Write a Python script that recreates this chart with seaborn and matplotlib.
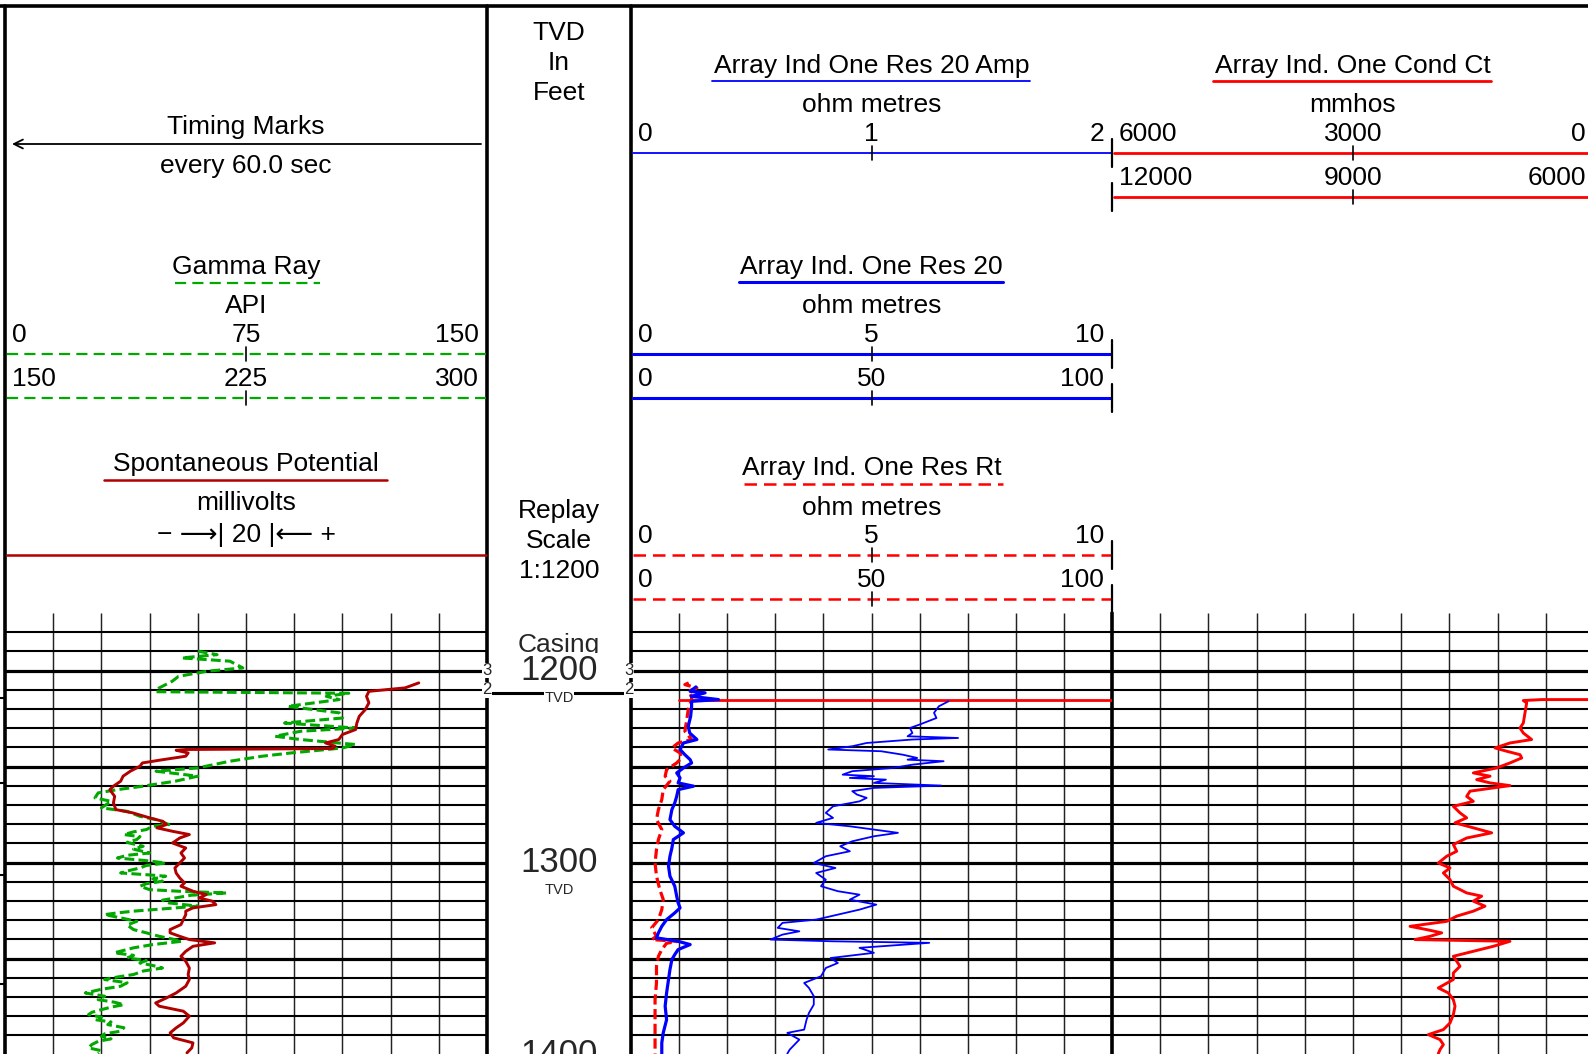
import numpy as np
import pandas as pd
import seaborn as sns
import matplotlib.pyplot as plt

# ---- log readings: (depth ft, value in curve units) ----
gamma_ray = [(1189.9, 60), (1191.7, 66), (1193.4, 55), (1195.1, 70), (1198.6, 74), (1200.3, 63),
             (1203.0, 54), (1205.6, 52), (1209.0, 48), (1211.0, 47), (1211.8, 107), (1213.4, 100),
             (1215.1, 104), (1218.6, 88), (1222.0, 104), (1224.7, 105), (1227.3, 87), (1229.9, 109),
             (1231.6, 92), (1234.2, 84), (1235.9, 92), (1238.5, 109), (1240.3, 105), (1242.9, 89),
             (1244.6, 80), (1247.2, 70), (1250.7, 60), (1252.4, 47), (1255.0, 60), (1257.6, 53),
             (1260.2, 43), (1262.0, 35), (1263.7, 29), (1266.3, 28), (1268.1, 33), (1271.5, 30),
             (1273.3, 38), (1275.9, 42), (1277.6, 47), (1280.2, 51), (1281.0, 46), (1282.8, 44),
             (1284.0, 40), (1285.4, 37), (1286.5, 42), (1288.0, 41), (1289.5, 38), (1291.5, 43),
             (1293.0, 40), (1295.0, 45), (1296.2, 38), (1297.6, 35), (1299.0, 44), (1300.2, 50),
             (1301.5, 44), (1302.8, 42), (1304.0, 39), (1305.4, 36), (1306.3, 44), (1307.1, 50),
             (1308.5, 46), (1309.7, 49), (1311.0, 44), (1312.3, 42), (1314.1, 45), (1315.0, 55),
             (1315.8, 69), (1317.0, 58), (1318.4, 53), (1319.6, 49), (1321.0, 51), (1322.7, 60),
             (1324.0, 50), (1325.3, 40), (1326.2, 35), (1327.1, 31), (1328.8, 36), (1330.6, 41),
             (1332.5, 38), (1334.9, 40), (1336.6, 44), (1338.4, 48), (1339.8, 52), (1341.0, 55),
             (1342.7, 46), (1344.4, 40), (1345.7, 37), (1347.0, 34), (1348.3, 40), (1349.7, 38),
             (1351.0, 44), (1352.3, 42), (1353.6, 46), (1354.9, 49), (1356.5, 43), (1358.3, 40),
             (1359.6, 35), (1360.9, 31), (1362.6, 38), (1364.4, 36), (1366.0, 30), (1367.9, 25),
             (1369.6, 31), (1371.4, 29), (1372.7, 34), (1374.0, 37), (1375.3, 33), (1376.6, 30),
             (1378.0, 27), (1379.2, 26), (1380.5, 30), (1381.8, 28), (1383.0, 33), (1384.4, 32),
             (1386.0, 37), (1387.8, 36), (1389.2, 31), (1390.5, 30), (1391.8, 33), (1393.1, 29),
             (1394.8, 27), (1396.5, 26), (1398.0, 30), (1399.5, 29)]

spont_pot = [(1206.4, 11.7), (1209.0, 6), (1210.8, -9), (1213.4, -10), (1216.8, -9), (1220.3, -10.5),
             (1223.8, -13), (1227.3, -14), (1230.7, -14.5), (1233.3, -20), (1235.9, -21.5),
             (1237.7, -27), (1239.4, -23), (1240.6, -24), (1241.1, -85), (1241.5, -89), (1242.9, -84),
             (1244.6, -85), (1246.4, -94.5), (1248.1, -103), (1249.8, -104), (1252.4, -108),
             (1255.0, -111), (1257.6, -112), (1260.2, -115), (1262.0, -116.5), (1265.5, -114.5),
             (1268.9, -115), (1272.4, -114), (1274.1, -107), (1276.7, -100), (1278.5, -94.5),
             (1280.2, -93), (1281.9, -97), (1283.7, -90.5), (1285.4, -83.5), (1287.2, -87.5),
             (1289.8, -90.5), (1292.4, -85), (1295.0, -87), (1297.6, -85.5), (1300.2, -87.5),
             (1302.8, -89.5), (1305.4, -89), (1308.0, -87.5), (1310.6, -85.5), (1312.3, -87),
             (1314.9, -82), (1316.7, -76.5), (1318.4, -79.5), (1320.1, -74), (1321.9, -72.5),
             (1323.6, -82), (1325.3, -85), (1327.1, -85), (1329.7, -86), (1332.3, -87),
             (1334.9, -91.5), (1336.6, -91.5), (1338.4, -87.5), (1340.1, -83.5), (1341.8, -73),
             (1343.6, -82), (1346.2, -85), (1348.8, -87), (1351.4, -85), (1354.9, -83.5),
             (1358.3, -84), (1360.9, -83.5), (1364.4, -85), (1367.9, -89), (1370.5, -93),
             (1373.1, -97.5), (1374.8, -96), (1377.4, -86), (1380.0, -83.5), (1383.5, -86),
             (1386.1, -89), (1388.7, -91.5), (1391.3, -90), (1393.9, -82), (1396.5, -82.5),
             (1399.1, -84.5)]

res20_amp = [(1216.0, 1.32), (1218.6, 1.28), (1222.0, 1.26), (1224.7, 1.27), (1228.1, 1.20),
             (1229.9, 1.16), (1232.5, 1.17), (1234.2, 1.15), (1235.1, 1.36), (1235.9, 1.17),
             (1237.7, 0.98), (1239.4, 0.92), (1241.1, 0.82), (1242.0, 1.04), (1243.8, 1.13),
             (1245.5, 1.19), (1246.4, 1.15), (1247.2, 1.30), (1249.0, 1.17), (1250.7, 1.09),
             (1252.4, 0.92), (1254.2, 0.88), (1255.0, 1.01), (1255.9, 0.91), (1256.8, 1.06),
             (1258.5, 1.01), (1259.9, 1.29), (1261.1, 1.01), (1262.8, 0.92), (1264.6, 0.94),
             (1266.3, 0.98), (1268.1, 0.95), (1270.7, 0.84), (1274.1, 0.81), (1276.7, 0.84),
             (1279.3, 0.77), (1281.1, 0.91), (1282.8, 1.01), (1284.5, 1.11), (1286.3, 1.01),
             (1288.9, 0.92), (1291.5, 0.87), (1294.1, 0.91), (1296.7, 0.81), (1300.2, 0.76),
             (1302.8, 0.85), (1305.4, 0.77), (1308.9, 0.81), (1312.3, 0.79), (1314.9, 0.86),
             (1316.7, 0.95), (1319.3, 0.91), (1321.9, 1.02), (1324.5, 0.95), (1327.1, 0.86),
             (1329.7, 0.77), (1331.4, 0.63), (1334.0, 0.61), (1335.8, 0.70), (1337.5, 0.63),
             (1340.1, 0.58), (1341.0, 0.84), (1341.8, 1.24), (1344.4, 0.95), (1347.0, 1.01),
             (1349.7, 0.83), (1352.3, 0.86), (1354.9, 0.81), (1359.2, 0.79), (1362.7, 0.72),
             (1365.3, 0.74), (1369.6, 0.76), (1374.0, 0.76), (1378.3, 0.74), (1381.8, 0.73),
             (1387.0, 0.72), (1388.7, 0.65), (1392.2, 0.70), (1394.8, 0.68), (1397.4, 0.66),
             (1399.5, 0.65)]

res20 = [(1208.5, 1.35), (1210.8, 1.23), (1211.6, 1.54), (1213.4, 1.25), (1215.1, 1.82),
         (1216.0, 1.26), (1218.6, 1.26), (1223.8, 1.24), (1229.0, 1.19), (1232.5, 1.22),
         (1235.9, 1.37), (1237.7, 1.09), (1241.1, 1.02), (1243.8, 1.12), (1246.4, 1.23),
         (1248.1, 1.26), (1250.7, 1.09), (1253.3, 0.95), (1255.9, 1.02), (1258.5, 0.98),
         (1260.2, 1.30), (1262.0, 0.98), (1265.5, 0.95), (1268.9, 0.91), (1272.4, 0.85),
         (1277.6, 0.81), (1281.1, 0.91), (1284.5, 1.09), (1288.0, 0.88), (1292.4, 0.85),
         (1296.7, 0.81), (1301.9, 0.78), (1307.1, 0.81), (1312.3, 0.91), (1317.5, 0.95),
         (1321.0, 0.98), (1323.6, 1.02), (1326.2, 0.91), (1329.7, 0.74), (1333.2, 0.64),
         (1336.6, 0.57), (1339.2, 0.53), (1341.0, 0.98), (1342.7, 1.23), (1345.3, 0.98),
         (1347.9, 0.91), (1350.5, 0.85), (1355.7, 0.81), (1360.9, 0.78), (1367.9, 0.74),
         (1374.8, 0.71), (1381.8, 0.74), (1388.7, 0.67), (1393.9, 0.64), (1399.5, 0.64)]

res_rt = [(1206.4, 1.20), (1207.3, 1.12), (1209.0, 1.37), (1210.8, 1.19), (1213.4, 1.26),
          (1215.1, 1.26), (1220.3, 1.19), (1225.5, 1.16), (1231.6, 1.12), (1235.9, 1.26),
          (1237.7, 0.98), (1240.3, 0.85), (1242.9, 1.02), (1245.5, 1.05), (1248.1, 0.95),
          (1251.6, 0.74), (1255.0, 0.71), (1257.6, 0.81), (1262.0, 0.67), (1267.2, 0.64),
          (1272.4, 0.57), (1277.6, 0.53), (1282.8, 0.64), (1288.0, 0.57), (1293.2, 0.53),
          (1300.2, 0.50), (1307.1, 0.53), (1314.1, 0.60), (1319.2, 0.67), (1324.5, 0.64),
          (1329.7, 0.57), (1334.0, 0.43), (1338.4, 0.53), (1340.1, 0.43), (1341.0, 0.98),
          (1342.0, 0.74), (1345.3, 0.64), (1348.8, 0.57), (1354.0, 0.53), (1362.6, 0.53),
          (1371.4, 0.50), (1380.0, 0.50), (1388.7, 0.50), (1399.5, 0.50)]

cond_ct = [(1215.1, 0), (1215.1, 651), (1215.6, 880), (1216.8, 838), (1222.0, 859), (1227.3, 880),
           (1229.9, 921), (1232.5, 880), (1235.9, 776), (1237.7, 1046), (1240.3, 1232),
           (1242.0, 1087), (1243.8, 921), (1245.5, 900), (1248.1, 1046), (1250.7, 1212),
           (1253.3, 1502), (1255.0, 1294), (1256.8, 1460), (1258.5, 1294), (1259.9, 1046),
           (1261.1, 1253), (1262.8, 1543), (1265.5, 1585), (1268.1, 1502), (1270.7, 1751),
           (1274.1, 1668), (1276.7, 1585), (1279.3, 1730), (1281.9, 1502), (1284.5, 1274),
           (1287.2, 1585), (1290.6, 1751), (1294.1, 1709), (1296.7, 1834), (1300.2, 1938),
           (1302.8, 1792), (1305.4, 1875), (1308.9, 1792), (1312.3, 1751), (1315.8, 1585),
           (1317.5, 1398), (1320.1, 1502), (1322.7, 1357), (1325.3, 1502), (1327.9, 1709),
           (1330.6, 1834), (1333.2, 2290), (1334.9, 2083), (1336.6, 1896), (1338.4, 2041),
           (1340.1, 2228), (1341.0, 1046), (1343.6, 1253), (1346.2, 1502), (1348.8, 1751),
           (1351.4, 1709), (1354.0, 1668), (1357.5, 1751), (1360.9, 1751), (1365.3, 1938),
           (1367.9, 1813), (1371.4, 1751), (1374.8, 1730), (1379.2, 1751), (1383.5, 1792),
           (1387.0, 1875), (1389.6, 2062), (1392.2, 1917), (1394.8, 1875), (1397.4, 1917),
           (1399.5, 1938)]

# red flag line drawn across track 2 at the top of the Ct curve (ohm.m scale)
ct_track2 = [(1215.1, 1.0), (1215.1, 10.0)]

timing_marks = [1214.1, 1258.3, 1306.3, 1363.0]
depth_labels = [1200, 1300, 1400]
casing_depth = 1211.5

# header scale labels (left, centre, right)
gr_scale = ["0", "75", "150"]
gr_backup = ["150", "225", "300"]
amp_scale = ["0", "1", "2"]
res_scale = ["0", "5", "10"]
res_backup = ["0", "50", "100"]
ct_scale = ["6000", "3000", "0"]
ct_backup = ["12000", "9000", "6000"]

# ---- layout (pixels) ----
W, H = 1588, 1054
TOP_D, BOT_D = 1170, 1399.7
GRID_Y = 613
T1 = (5, 487)
TD = (487, 631)
T2 = (631, 1112)
T3 = (1112, 1594)

GREEN = '#00a800'
DRED = '#b00000'
RED = '#ff0000'
BLUE = '#0000ff'
FS = 19

sns.set_style("white")
plt.rcParams['font.family'] = ['Liberation Sans', 'DejaVu Sans']

fig = plt.figure(figsize=(W / 100, H / 100), dpi=100)
hd = fig.add_axes([0, 0, 1, 1], zorder=0)
hd.set_xlim(0, W)
hd.set_ylim(H, 0)
hd.axis('off')


def txt(x, y, s, ha='center', fs=FS):
    hd.text(x, y + 2, s, ha=ha, va='center', fontsize=fs, color='black')


def scale_line(x0, x1, y, labels, color, lw, ls='-', end_tick=False):
    cx = (x0 + x1) / 2
    txt(x0 + 7, y - 21, labels[0], ha='left')
    txt(cx, y - 21, labels[1])
    txt(x1 - 8, y - 21, labels[2], ha='right')
    hd.plot([x0 + 2, x1 - 1], [y, y], color=color, lw=lw, linestyle=ls)
    hd.plot([cx, cx], [y - 7, y + 7], color='black', lw=1.2)
    if end_tick:
        hd.plot([x1, x1], [y - 14, y + 14], color='black', lw=1.6)


hdash = (0, (5, 2.8))

# track borders
hd.plot([0, W], [6, 6], color='black', lw=2.6)
for xb in (T1[0], T1[1], T2[0]):
    hd.plot([xb, xb], [6, H], color='black', lw=2.6)
hd.plot([T3[0], T3[0]], [GRID_Y, H], color='black', lw=2.6)

# track 1 header
c1 = sum(T1) / 2
txt(c1, 125, "Timing Marks")
hd.annotate('', xy=(12, 144), xytext=(481, 144),
            arrowprops=dict(arrowstyle='->', color='black', lw=1.3, mutation_scale=16,
                            shrinkA=0, shrinkB=0))
txt(c1, 164, "every 60.0 sec")
txt(c1, 265, "Gamma Ray")
hd.plot([175, 320], [283, 283], color=GREEN, lw=1.6, linestyle=hdash)
txt(c1, 304, "API")
scale_line(*T1, 354, gr_scale, GREEN, 1.6, hdash)
scale_line(*T1, 398, gr_backup, GREEN, 1.6, hdash)
txt(c1, 462, "Spontaneous Potential")
hd.plot([104, 387], [480, 480], color=DRED, lw=1.8)
txt(c1, 501, "millivolts")
txt(c1, 533, "\u2212 \u27f6| 20 |\u27f5 +")
hd.plot([T1[0] + 2, T1[1] - 1], [555, 555], color=DRED, lw=1.8)

# depth track header
cd = sum(TD) / 2
for yy, s in zip([31, 61, 91, 509, 539, 569], ["TVD", "In", "Feet", "Replay", "Scale", "1:1200"]):
    txt(cd, yy, s)

# track 2 header
c2 = sum(T2) / 2
txt(c2, 64, "Array Ind One Res 20 Amp")
hd.plot([712, 1030], [81, 81], color=BLUE, lw=1.3)
txt(c2, 103, "ohm metres")
scale_line(*T2, 153, amp_scale, BLUE, 1.3, end_tick=True)
txt(c2, 265, "Array Ind. One Res 20")
hd.plot([739, 1003], [282, 282], color=BLUE, lw=2.2)
txt(c2, 304, "ohm metres")
scale_line(*T2, 354, res_scale, BLUE, 2.2, end_tick=True)
scale_line(*T2, 398, res_backup, BLUE, 2.2, end_tick=True)
txt(c2, 466, "Array Ind. One Res Rt")
hd.plot([744, 1003], [484, 484], color=RED, lw=1.8, linestyle=hdash)
txt(c2, 506, "ohm metres")
scale_line(*T2, 555, res_scale, RED, 1.8, hdash, end_tick=True)
scale_line(*T2, 599, res_backup, RED, 1.8, hdash, end_tick=True)

# track 3 header
c3 = sum(T3) / 2
txt(c3, 64, "Array Ind. One Cond Ct")
hd.plot([1213, 1491], [81, 81], color=RED, lw=2.0)
txt(c3, 103, "mmhos")
scale_line(T3[0], T3[1], 153, ct_scale, RED, 2.0)
scale_line(T3[0], T3[1], 197, ct_backup, RED, 2.0)
hd.plot([T3[0], T3[0]], [183, 211], color='black', lw=1.6)


# ---- log tracks ----
def make_track(x0, x1):
    ax = fig.add_axes([x0 / W, 0, (x1 - x0) / W, (H - GRID_Y) / H], zorder=1)
    ax.set_facecolor('none')
    return ax


def draw_grid(ax, lo, hi):
    xs = np.linspace(lo, hi, 11)[1:-1]
    ax.vlines(xs, TOP_D, BOT_D, color='#222222', lw=1.05, zorder=1)
    depths = np.arange(1180, 1400, 10)
    ax.hlines(depths[depths % 50 != 0], lo, hi, color='black', lw=1.5, zorder=1)
    ax.hlines(depths[depths % 50 == 0], lo, hi, color='black', lw=2.3, zorder=1)


def finish(ax, lo, hi):
    ax.set_xlim(lo, hi)
    ax.set_ylim(BOT_D, TOP_D)
    ax.axis('off')


def curve(ax, rows, color, lw, ls='-'):
    df = pd.DataFrame(rows, columns=['depth', 'value'])
    sns.lineplot(data=df, x='value', y='depth', ax=ax, sort=False, estimator=None,
                 color=color, linewidth=lw, linestyle=ls, zorder=3)


cdash = (0, (3.2, 1.4))

ax1 = make_track(*T1)
draw_grid(ax1, 0, 150)
ax1sp = ax1.twiny()
curve(ax1, gamma_ray, GREEN, 2.2, cdash)
curve(ax1sp, spont_pot, DRED, 2.1)
ax1.hlines(timing_marks, -0.014, 0, transform=ax1.get_yaxis_transform(), clip_on=False,
           color='black', lw=1.5)

ax2 = make_track(*T2)
draw_grid(ax2, 0, 10)
ax2amp = ax2.twiny()
curve(ax2, ct_track2, RED, 2.0)
curve(ax2, res_rt, RED, 2.3, cdash)
curve(ax2, res20, BLUE, 2.3)
curve(ax2amp, res20_amp, BLUE, 1.3)

ax3 = make_track(*T3)
draw_grid(ax3, 6000, 0)
curve(ax3, cond_ct, RED, 2.1)

axd = make_track(*TD)
axd.hlines(casing_depth, 0, 1, color='black', lw=2.2, zorder=2)
axd.text(0.5, 1186.5, "Casing", ha='center', va='center', fontsize=FS, zorder=3)
for d in depth_labels:
    axd.text(0.5, d, str(d), ha='center', va='center', fontsize=25, zorder=4,
             bbox=dict(fc='white', ec='none', pad=1))
    axd.text(0.5, d + 14.3, "TVD", ha='center', va='center', fontsize=10.5, zorder=4,
             bbox=dict(fc='white', ec='none', pad=0.5))
for xm in (0.0, 0.985):
    axd.text(xm, 1200, "3", ha='center', va='center', fontsize=12, zorder=5, clip_on=False,
             bbox=dict(fc='white', ec='none', pad=0.2))
    axd.text(xm, 1210, "2", ha='center', va='center', fontsize=12, zorder=5, clip_on=False,
             bbox=dict(fc='white', ec='none', pad=0.2))

finish(ax1, 0, 150)
finish(ax1sp, -160, 40)
finish(ax2, 0, 10)
finish(ax2amp, 0, 2)
finish(ax3, 6000, 0)
finish(axd, 0, 1)

fig.savefig("out.png", dpi=100)
